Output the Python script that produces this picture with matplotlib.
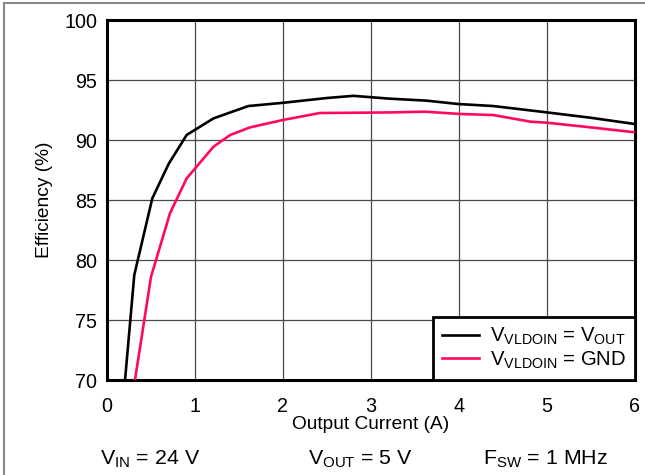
import matplotlib
matplotlib.use("Agg")
import matplotlib.pyplot as plt
from matplotlib.lines import Line2D

plt.rcParams['font.family'] = ['Liberation Sans', 'DejaVu Sans']
plt.rcParams['mathtext.fontset'] = 'custom'
plt.rcParams['mathtext.rm'] = 'Liberation Sans'
plt.rcParams['mathtext.it'] = 'Liberation Sans'

# Data
x_vout = [0.205, 0.31, 0.515, 0.70, 0.905, 1.21, 1.606, 2.0, 2.5, 2.8, 3.2, 3.63, 3.99, 4.39, 5.0, 5.5, 6.0]
y_vout = [70.0, 78.75, 85.14, 88.0, 90.42, 91.8, 92.83, 93.1, 93.5, 93.68, 93.45, 93.28, 93.0, 92.83, 92.3, 91.85, 91.33]
x_gnd = [0.318, 0.50, 0.716, 0.905, 1.21, 1.40, 1.625, 2.0, 2.42, 2.8, 3.24, 3.61, 4.01, 4.39, 4.81, 5.0, 5.5, 6.0]
y_gnd = [70.0, 78.6, 83.9, 86.8, 89.44, 90.42, 91.05, 91.67, 92.25, 92.27, 92.3, 92.36, 92.17, 92.08, 91.53, 91.44, 91.05, 90.64]

x_ticks = [0, 1, 2, 3, 4, 5, 6]
y_ticks = [70, 75, 80, 85, 90, 95, 100]
label_vout = r'V$_{\mathregular{VLDOIN}}$ = V$_{\mathregular{OUT}}$'
label_gnd = r'V$_{\mathregular{VLDOIN}}$ = GND'
notes = [r'V$_{\mathregular{IN}}$ = 24 V', r'V$_{\mathregular{OUT}}$ = 5 V', r'F$_{\mathregular{SW}}$ = 1 MHz']

W, H = 645, 475
fig = plt.figure(figsize=(W/100, H/100), dpi=100)
ax = fig.add_axes([107/W, 1-380/H, (635-107)/W, (380-20)/H])

ax.plot(x_vout, y_vout, color='black', lw=1.9, label=label_vout, zorder=3)
ax.plot(x_gnd, y_gnd, color='#ff0a5a', lw=1.9, label=label_gnd, zorder=3)

ax.set_xlim(0, 6)
ax.set_ylim(70, 100)
ax.set_xticks(x_ticks)
ax.set_yticks(y_ticks)
ax.tick_params(length=0, labelsize=14.2, colors='black')
ax.tick_params(axis='x', pad=12)
ax.tick_params(axis='y', pad=7)
ax.grid(True, color='#4a4a4a', lw=0.9)
ax.set_axisbelow(True)
for s in ax.spines.values():
    s.set_linewidth(2.2)
    s.set_color('black')
ax.set_xlabel('Output Current (A)', fontsize=13.8, labelpad=0)
ax.set_ylabel('Efficiency (%)', fontsize=13.8, labelpad=8)

leg = ax.legend(loc='lower right', bbox_to_anchor=(1.0, 0.0), fontsize=14.6, frameon=True,
                fancybox=False, borderaxespad=0, handlelength=1.8, handletextpad=0.55,
                labelspacing=0.12, borderpad=0.45)
leg.get_frame().set_edgecolor('black')
leg.get_frame().set_linewidth(2.0)
leg.get_frame().set_alpha(1)

# notes below
for xc, t in zip([150, 360, 545], notes):
    fig.text(xc/W, 1-459/H, t, ha='center', va='center', fontsize=15.4)

# outer border (top and left)
fig.add_artist(Line2D([4/W, 4/W], [0, 1-2.5/H], color='#888888', lw=1.5, transform=fig.transFigure))
fig.add_artist(Line2D([4/W, 1], [1-2.5/H, 1-2.5/H], color='#888888', lw=1.5, transform=fig.transFigure))

fig.savefig('out.png', dpi=100)
